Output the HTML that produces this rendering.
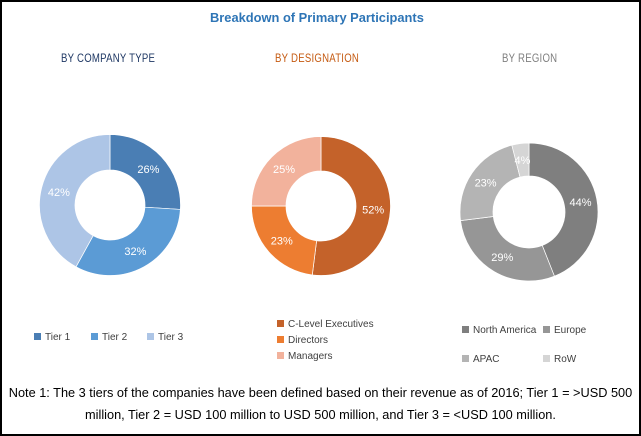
<!DOCTYPE html>
<html><head><meta charset="utf-8">
<style>
html,body{margin:0;padding:0;background:#fff;}
#frame{position:relative;width:641px;height:436px;box-sizing:border-box;border:2px solid #000;overflow:hidden;font-family:"Liberation Sans",sans-serif;}
.t{position:absolute;white-space:nowrap;}
.hd{font-size:12px;transform:scaleX(0.8);transform-origin:left top;letter-spacing:0.3px;}
.lg{font-size:10px;color:#404040;}
.sw{display:inline-block;width:7px;height:7px;margin-right:4px;}
</style></head><body>
<div id="frame">
<div class="t" style="left:208px;top:8px;font-size:13px;font-weight:bold;color:#2e75b6;transform:scaleX(0.99);transform-origin:left top;">Breakdown of Primary Participants</div>
<div class="t hd" style="left:59px;top:49px;color:#1f3864;">BY COMPANY TYPE</div>
<div class="t hd" style="left:273px;top:49px;color:#c55a11;">BY DESIGNATION</div>
<div class="t hd" style="left:500px;top:49px;color:#7f7f7f;">BY REGION</div>
<svg id="svg" width="641" height="436" style="position:absolute;left:-2px;top:-2px"></svg>

<div class="t lg" style="left:32px;top:330px;"><span class="sw" style="background:#4a7eb4"></span>Tier 1</div>
<div class="t lg" style="left:89px;top:330px;"><span class="sw" style="background:#5b9bd5"></span>Tier 2</div>
<div class="t lg" style="left:145px;top:330px;"><span class="sw" style="background:#adc5e6"></span>Tier 3</div>
<div class="t lg" style="left:275px;top:317px;"><span class="sw" style="background:#c4622a"></span>C-Level Executives</div>
<div class="t lg" style="left:275px;top:333px;"><span class="sw" style="background:#ed7d31"></span>Directors</div>
<div class="t lg" style="left:275px;top:349px;"><span class="sw" style="background:#f2b29c"></span>Managers</div>
<div class="t lg" style="left:460px;top:323px;"><span class="sw" style="background:#7f7f7f"></span>North America</div>
<div class="t lg" style="left:541px;top:323px;"><span class="sw" style="background:#969696"></span>Europe</div>
<div class="t lg" style="left:460px;top:352px;"><span class="sw" style="background:#b4b4b4"></span>APAC</div>
<div class="t lg" style="left:541px;top:352px;"><span class="sw" style="background:#d5d5d5"></span>RoW</div>

<div class="t" style="left:0;width:637px;top:380px;font-size:12.75px;line-height:22px;color:#000;text-align:center;">Note 1: The 3 tiers of the companies have been defined based on their revenue as of 2016; Tier 1 = &gt;USD 500<br>million, Tier 2 = USD 100 million to USD 500 million, and Tier 3 = &lt;USD 100 million.</div>
</div>
<script>
const companyLabels=["Tier 1","Tier 2","Tier 3"];
const companyValues=[26,32,42];
const designationLabels=["C-Level Executives","Directors","Managers"];
const designationValues=[52,23,25];
const regionLabels=["North America","Europe","APAC","RoW"];
const regionValues=[44,29,23,4];
const NS="http://www.w3.org/2000/svg";
const svg=document.getElementById('svg');
function donut(name,labels,values,colors,cx,cy,R,r){
  const total=values.reduce((a,b)=>a+b,0);
  let a0=-Math.PI/2;
  values.forEach((v,i)=>{
    const a1=a0+v/total*2*Math.PI;
    const large=(a1-a0)>Math.PI?1:0;
    const p=(rad,a)=>[cx+rad*Math.cos(a),cy+rad*Math.sin(a)];
    const [x0,y0]=p(R,a0),[x1,y1]=p(R,a1),[x2,y2]=p(r,a1),[x3,y3]=p(r,a0);
    const path=document.createElementNS(NS,'path');
    path.setAttribute('d',`M${x0},${y0}A${R},${R} 0 ${large} 1 ${x1},${y1}L${x2},${y2}A${r},${r} 0 ${large} 0 ${x3},${y3}Z`);
    path.setAttribute('fill',colors[i]);
    path.setAttribute('stroke','#fff');
    path.setAttribute('stroke-width','0.7');
    
    
    svg.appendChild(path);
    const am=(a0+a1)/2,rm=(R+r)/2;
    const t=document.createElementNS(NS,'text');
    t.setAttribute('x',cx+rm*Math.cos(am));
    t.setAttribute('y',cy+rm*Math.sin(am)+4);
    t.setAttribute('text-anchor','middle');
    t.setAttribute('fill','#fff');
    t.setAttribute('font-size','11');
    t.setAttribute('font-family','Liberation Sans, sans-serif');
    t.textContent=v+'%';
    
    
    svg.appendChild(t);
    a0=a1;
  });
}
donut('company-type',companyLabels,companyValues,['#4a7eb4','#5b9bd5','#adc5e6'],110,205,70.5,35);
donut('designation',designationLabels,designationValues,['#c4622a','#ed7d31','#f2b29c'],321,206,69.5,35);
donut('region',regionLabels,regionValues,['#7f7f7f','#969696','#b4b4b4','#d5d5d5'],529,212,69,36);
</script>
</body></html>
